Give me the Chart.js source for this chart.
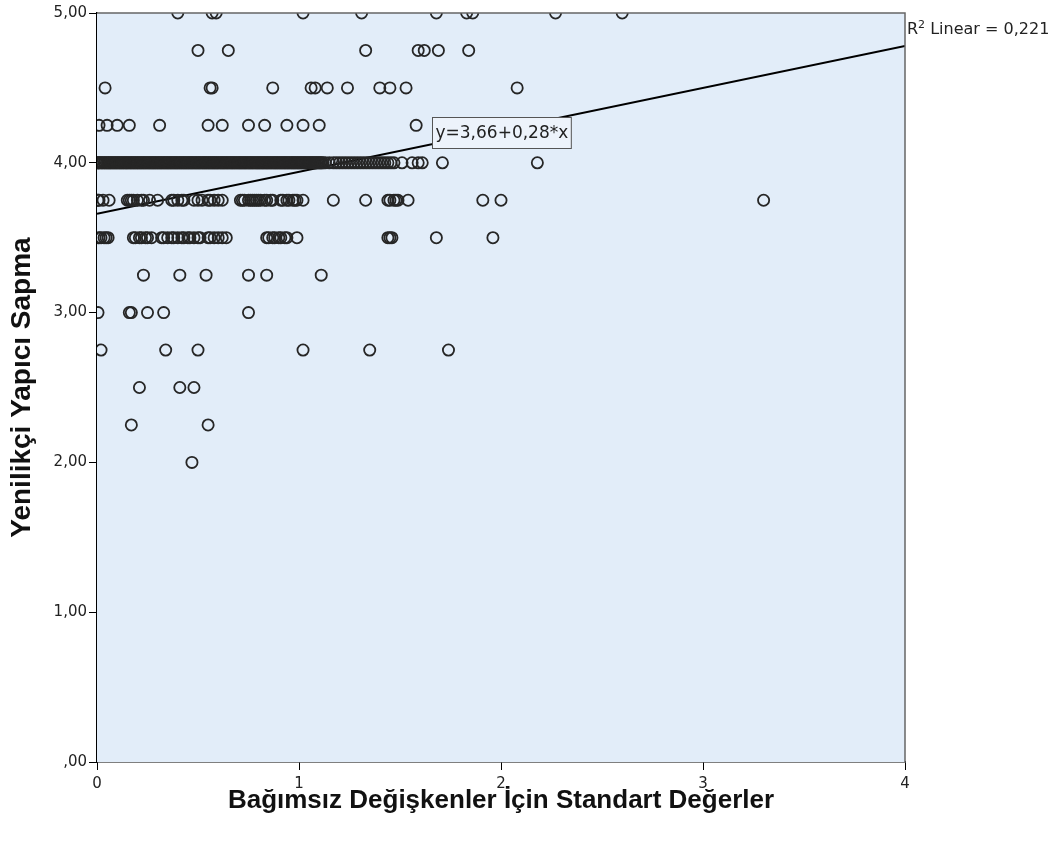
<!DOCTYPE html>
<html>
<head>
<meta charset="utf-8">
<script src="https://cdn.jsdelivr.net/npm/chart.js@4.4.1/dist/chart.umd.min.js"></script>
<style>
  html, body { margin: 0; padding: 0; background: #ffffff; }
  #wrap { width: 1062px; height: 845px; }
</style>
</head>
<body>
<div id="wrap"><canvas id="c" width="1062" height="845"></canvas></div>
<script>
// Standardised predictor values observed at each Yenilikçi Yapıcı Sapma score level
const x500 = [0.40, 0.57, 0.59, 1.02, 1.31, 1.68, 1.83, 1.86, 2.27, 2.60];
const x475 = [0.50, 0.65, 1.33, 1.59, 1.62, 1.69, 1.84];
const x450 = [0.04, 0.56, 0.57, 0.87, 1.06, 1.08, 1.14, 1.24, 1.40, 1.45, 1.53, 2.08];
const x425 = [0.01, 0.05, 0.10, 0.16, 0.31, 0.55, 0.62, 0.75, 0.83, 0.94, 1.02, 1.10, 1.58];
const x400 = [0.000, 0.004, 0.011, 0.016, 0.022, 0.027, 0.035, 0.039, 0.046, 0.052, 0.057, 0.064,
              0.068, 0.075, 0.081, 0.086, 0.093, 0.098, 0.104, 0.111, 0.115, 0.122, 0.128, 0.133,
              0.140, 0.146, 0.150, 0.157, 0.163, 0.169, 0.174, 0.181, 0.186, 0.192, 0.199, 0.203,
              0.210, 0.216, 0.221, 0.228, 0.233, 0.239, 0.245, 0.251, 0.257, 0.262, 0.269, 0.274,
              0.280, 0.286, 0.291, 0.298, 0.303, 0.309, 0.316, 0.320, 0.327, 0.333, 0.338, 0.345,
              0.350, 0.356, 0.362, 0.368, 0.373, 0.380, 0.385, 0.391, 0.397, 0.402, 0.409, 0.415,
              0.420, 0.427, 0.432, 0.438, 0.444, 0.450, 0.455, 0.462, 0.467, 0.473, 0.479, 0.485,
              0.491, 0.496, 0.503, 0.508, 0.514, 0.521, 0.526, 0.532, 0.538, 0.543, 0.550, 0.555,
              0.561, 0.567, 0.573, 0.579, 0.584, 0.591, 0.596, 0.602, 0.609, 0.614, 0.620, 0.626,
              0.631, 0.638, 0.643, 0.649, 0.655, 0.661, 0.667, 0.672, 0.679, 0.684, 0.690, 0.697,
              0.702, 0.708, 0.714, 0.719, 0.726, 0.731, 0.737, 0.743, 0.749, 0.755, 0.760, 0.767,
              0.772, 0.778, 0.785, 0.790, 0.796, 0.802, 0.807, 0.814, 0.819, 0.825, 0.831, 0.837,
              0.843, 0.848, 0.855, 0.860, 0.866, 0.873, 0.878, 0.884, 0.890, 0.895, 0.902, 0.907,
              0.913, 0.919, 0.925, 0.931, 0.936, 0.943, 0.948, 0.954, 0.961, 0.966, 0.972, 0.978,
              0.983, 0.990, 0.995, 1.001, 1.007, 1.013, 1.019, 1.024, 1.031, 1.036, 1.042, 1.049,
              1.054, 1.060, 1.066, 1.071, 1.078, 1.083, 1.089, 1.095, 1.101, 1.107, 1.112, 1.119,
              1.13, 1.15, 1.17, 1.185, 1.20, 1.215, 1.23, 1.245, 1.26, 1.275, 1.29, 1.305, 1.32,
              1.335, 1.35, 1.365, 1.38, 1.395, 1.41, 1.425, 1.44, 1.455, 1.47, 1.51, 1.56, 1.59,
              1.61, 1.71, 2.18];
const x375 = [0.005, 0.01, 0.03, 0.06, 0.15, 0.16, 0.17, 0.18, 0.20, 0.22, 0.23, 0.26, 0.30,
              0.37, 0.38, 0.40, 0.42, 0.43, 0.48, 0.50, 0.52, 0.55, 0.56, 0.58, 0.60, 0.62,
              0.71, 0.72, 0.73, 0.75, 0.76, 0.77, 0.78, 0.79, 0.80, 0.81, 0.83, 0.84, 0.86,
              0.87, 0.91, 0.92, 0.94, 0.95, 0.97, 0.98, 0.99, 1.02, 1.17, 1.33, 1.44, 1.45,
              1.47, 1.48, 1.49, 1.54, 1.91, 2.00, 3.30];
const x350 = [0.01, 0.02, 0.035, 0.045, 0.055, 0.18, 0.19, 0.21, 0.22, 0.24, 0.25, 0.27, 0.32,
              0.33, 0.35, 0.37, 0.38, 0.40, 0.42, 0.43, 0.45, 0.46, 0.48, 0.50, 0.51, 0.55,
              0.56, 0.58, 0.60, 0.62, 0.64, 0.84, 0.85, 0.87, 0.88, 0.90, 0.91, 0.93, 0.94,
              0.99, 1.44, 1.45, 1.46, 1.68, 1.96];
const x325 = [0.23, 0.41, 0.54, 0.75, 0.84, 1.11];
const x300 = [0.005, 0.16, 0.17, 0.25, 0.33, 0.75];
const x275 = [0.02, 0.34, 0.50, 1.02, 1.35, 1.74];
const x250 = [0.21, 0.41, 0.48];
const x225 = [0.17, 0.55];
const x200 = [0.47];

const scoreLevels = [5.00, 4.75, 4.50, 4.25, 4.00, 3.75, 3.50, 3.25, 3.00, 2.75, 2.50, 2.25, 2.00];
const xByLevel = [x500, x475, x450, x425, x400, x375, x350, x325, x300, x275, x250, x225, x200];

// Linear fit
const fitIntercept = 3.66;
const fitSlope = 0.28;
const rSquared = 0.221;

// Axis tick labels
const xTickLabels = ['0', '1', '2', '3', '4'];
const yTickLabels = [',00', '1,00', '2,00', '3,00', '4,00', '5,00'];

const points = [];
scoreLevels.forEach((lv, i) => xByLevel[i].forEach(x => points.push({ x: x, y: lv })));

const fitLine = [0, 4].map(x => ({ x: x, y: fitIntercept + fitSlope * x }));

const comma = (v, d) => v.toFixed(d).replace('.', ',');
const equationText = 'y=' + comma(fitIntercept, 2) + '+' + comma(fitSlope, 2) + '*x';

const TICK_FONT = { family: "'DejaVu Sans', sans-serif", size: 15 };
const TITLE_FAMILY = "'Liberation Sans', Arial, sans-serif";

const plotDecor = {
  id: 'plotDecor',
  beforeDatasetsDraw(chart) {
    const { ctx, chartArea: a } = chart;
    ctx.save();
    ctx.fillStyle = '#e2edf9';
    ctx.fillRect(a.left, a.top, a.right - a.left, a.bottom - a.top);
    ctx.restore();
  },
  afterDatasetsDraw(chart) {
    const { ctx, chartArea: a, scales } = chart;
    ctx.save();
    // top and right frame
    ctx.strokeStyle = '#666666';
    ctx.lineWidth = 1.5;
    ctx.beginPath();
    ctx.moveTo(a.left, a.top);
    ctx.lineTo(a.right, a.top);
    ctx.lineTo(a.right, a.bottom);
    ctx.stroke();

    // equation box placed on the fit line
    ctx.font = '17px "DejaVu Sans", sans-serif';
    const tw = ctx.measureText(equationText).width;
    const bw = tw + 6, bh = 31;
    const cx = scales.x.getPixelForValue(2.0);
    const cy = scales.y.getPixelForValue(4.2);
    const bx = Math.round(cx - bw / 2) + 0.5, by = Math.round(cy - bh / 2) + 0.5;
    ctx.fillStyle = '#edf3fb';
    ctx.fillRect(bx, by, bw, bh);
    ctx.strokeStyle = '#555555';
    ctx.lineWidth = 1;
    ctx.strokeRect(bx, by, bw, bh);
    ctx.fillStyle = '#222222';
    ctx.textAlign = 'center';
    ctx.textBaseline = 'middle';
    ctx.fillText(equationText, bx + bw / 2, by + bh / 2 + 1);

    // R² annotation to the right of the frame
    let tx = a.right + 2;
    const base = a.top + 21;
    ctx.textAlign = 'left';
    ctx.textBaseline = 'alphabetic';
    ctx.font = '16px "DejaVu Sans", sans-serif';
    ctx.fillText('R', tx, base);
    tx += ctx.measureText('R').width;
    ctx.font = '11px "DejaVu Sans", sans-serif';
    ctx.fillText('2', tx, base - 6);
    tx += ctx.measureText('2').width;
    ctx.font = '16px "DejaVu Sans", sans-serif';
    ctx.fillText(' Linear = ' + comma(rSquared, 3), tx, base);
    ctx.restore();
  }
};

new Chart(document.getElementById('c'), {
  type: 'scatter',
  data: {
    datasets: [
      {
        label: 'Gözlemler',
        data: points,
        pointRadius: 5.6,
        pointHoverRadius: 5.6,
        pointBorderWidth: 1.8,
        pointBorderColor: '#262626',
        pointBackgroundColor: 'rgba(0,0,0,0)',
        clip: 0
      },
      {
        label: 'Linear',
        data: fitLine,
        showLine: true,
        pointRadius: 0,
        borderColor: '#000000',
        borderWidth: 2,
        clip: 0
      }
    ]
  },
  plugins: [plotDecor],
  options: {
    responsive: false,
    animation: false,
    events: [],
    layout: { padding: { left: 0, right: 157, top: 13, bottom: 0 } },
    plugins: { legend: { display: false }, tooltip: { enabled: false } },
    scales: {
      x: {
        type: 'linear',
        min: 0, max: 4,
        ticks: {
          stepSize: 1,
          callback: (v, i) => xTickLabels[i],
          font: TICK_FONT, color: '#222222', padding: 5, maxRotation: 0
        },
        grid: { drawOnChartArea: false, drawTicks: true, tickLength: 8, color: '#000000', lineWidth: 1 },
        border: { display: true, color: '#000000', width: 1.5 },
        title: {
          display: true,
          text: 'Bağımsız Değişkenler İçin Standart Değerler',
          font: { family: TITLE_FAMILY, size: 26, weight: 'bold', lineHeight: 1 },
          color: '#111111',
          padding: { top: 0, bottom: 31 }
        },
        afterFit(s) { s.height = 83; }
      },
      y: {
        type: 'linear',
        min: 0, max: 5,
        ticks: {
          stepSize: 1,
          callback: (v, i) => yTickLabels[i],
          font: TICK_FONT, color: '#222222', padding: 2
        },
        grid: { drawOnChartArea: false, drawTicks: true, tickLength: 8, color: '#000000', lineWidth: 1 },
        border: { display: true, color: '#000000', width: 1.5 },
        title: {
          display: true,
          text: 'Yenilikçi Yapıcı Sapma',
          font: { family: TITLE_FAMILY, size: 28, weight: 'bold', lineHeight: 1 },
          color: '#111111',
          padding: { top: 8, bottom: 0 }
        },
        afterFit(s) { s.width = 97; }
      }
    }
  }
});
</script>
</body>
</html>
